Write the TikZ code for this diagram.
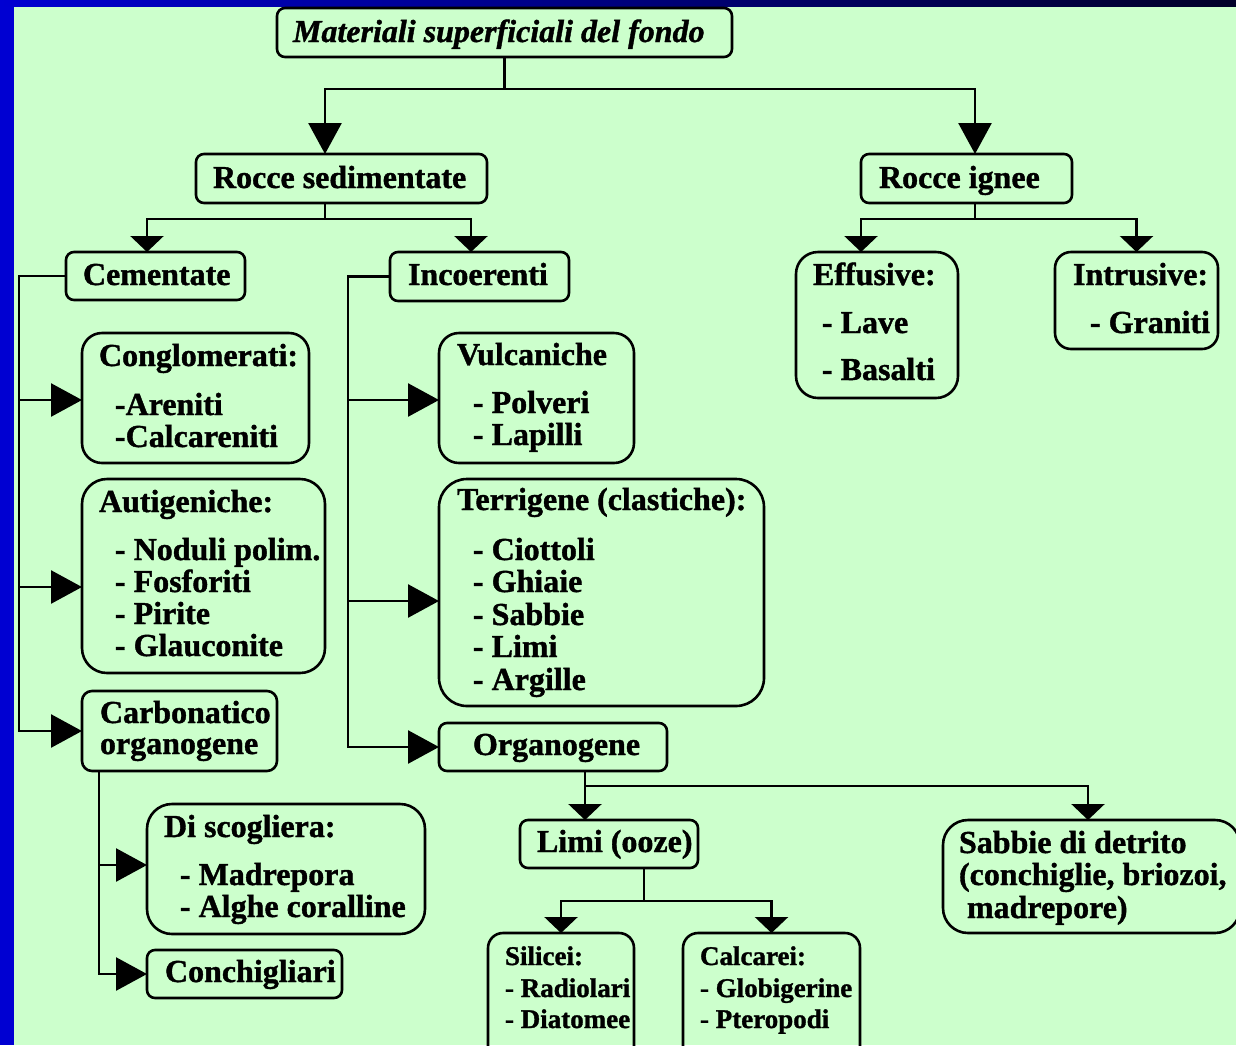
\documentclass[tikz,border=0pt]{standalone}
\usepackage{fontspec}
\setmainfont{Liberation Serif}[BoldFeatures={FakeBold=1.2},BoldItalicFeatures={FakeBold=1.2}]
\usetikzlibrary{arrows.meta}
\definecolor{bggreen}{RGB}{204,255,204}
\definecolor{slideblue}{RGB}{0,0,210}
\definecolor{darknavy}{RGB}{0,0,40}
\tikzset{
  box/.style={draw, line width=2.6pt, rounded corners=8pt, inner sep=0pt, outer sep=0pt, anchor=north west},
  txt/.style={inner sep=0pt, outer sep=0pt, anchor=base west, font=\fontsize{32}{38}\selectfont\bfseries},
  smalltxt/.style={txt, font=\fontsize{27}{32}\selectfont\bfseries},
  conn/.style={line width=2.6pt, line cap=rect},
  bigtip/.style={conn, -{Triangle[length=31pt,width=33pt]}},
  flattip/.style={conn, -{Triangle[length=16pt,width=33pt]}},
}
\begin{document}
\begin{tikzpicture}[x=1pt,y=-1pt]
\useasboundingbox (0,0) rectangle (1236,1045);
\clip (0,0) rectangle (1236,1045);
% background
\fill[bggreen] (0,0) rectangle (1236,1045);
\fill[slideblue] (0,0) rectangle (14,1045);
\shade[left color=slideblue, right color=darknavy] (0,0) rectangle (1236,6);

% boxes
\node[box, minimum width=455, minimum height=49] (title) at (277,8) {};
\node[box, minimum width=291, minimum height=49] (rsed) at (196,154) {};
\node[box, minimum width=211, minimum height=49] (rign) at (861,154) {};
\node[box, minimum width=179, minimum height=48] (cem) at (66,252) {};
\node[box, minimum width=179, minimum height=49] (inc) at (390,252) {};
\node[box, rounded corners=22pt, minimum width=162, minimum height=146] (eff) at (796,252) {};
\node[box, rounded corners=16pt, minimum width=163, minimum height=97] (intr) at (1055,252) {};
\node[box, rounded corners=20pt, minimum width=227, minimum height=130] (cong) at (82,333) {};
\node[box, rounded corners=25pt, minimum width=243, minimum height=194] (aut) at (82,479) {};
\node[box, rounded corners=10pt, minimum width=195, minimum height=80] (carb) at (82,691) {};
\node[box, rounded corners=20pt, minimum width=195, minimum height=130] (vulc) at (439,333) {};
\node[box, rounded corners=28pt, minimum width=325, minimum height=227] (terr) at (439,479) {};
\node[box, minimum width=228, minimum height=48] (org) at (439,723) {};
\node[box, rounded corners=25pt, minimum width=278, minimum height=130] (scog) at (147,804) {};
\node[box, minimum width=195, minimum height=48] (conch) at (147,950) {};
\node[box, minimum width=178, minimum height=48] (limi) at (520,820) {};
\node[box, rounded corners=25pt, minimum width=297, minimum height=113] (sab) at (943,820) {};
\node[box, rounded corners=15pt, minimum width=146, minimum height=130] (sil) at (488,933) {};
\node[box, rounded corners=15pt, minimum width=177, minimum height=130] (calc) at (683,933) {};

% junction coordinates
\coordinate (j1) at (504.5,89);
\coordinate (j2) at (325,219);
\coordinate (j3) at (975,219);
\coordinate (j4) at (585,786);
\coordinate (j5) at (644,901);
\coordinate (cl) at (19,0);
\coordinate (il) at (348,0);
\coordinate (cb) at (99,0);

% connectors
\draw[conn] (title.south) -- (j1);
\draw[bigtip] (j1) -| ([xshift=-16.5pt]rsed.north);
\draw[bigtip] (j1) -| ([xshift=8.5pt]rign.north);

\draw[conn] ([xshift=-16.5pt]rsed.south) -- (j2);
\draw[flattip] (j2) -| ([xshift=-8.5pt]cem.north);
\draw[flattip] (j2) -| ([xshift=-8.5pt]inc.north);

\draw[conn] ([xshift=8.5pt]rign.south) -- (j3);
\draw[flattip] (j3) -| ([xshift=-16pt]eff.north);
\draw[flattip] (j3) -| (intr.north);

\draw[conn] (cem.west) -| (cl |- carb.west);
\draw[bigtip] (19,400) -- (cong.west |- 0,400);
\draw[bigtip] (19,587) -- (aut.west |- 0,587);
\draw[bigtip] (cl |- carb.west) -- (carb.west);

\draw[conn] (inc.west) -| (il |- org.west);
\draw[bigtip] (348,400) -- (vulc.west |- 0,400);
\draw[bigtip] (348,601) -- (terr.west |- 0,601);
\draw[bigtip] (il |- org.west) -- (org.west);

\draw[conn] (cb |- carb.south) -- (cb |- conch.west);
\draw[bigtip] (99,865) -- (scog.west |- 0,865);
\draw[bigtip] (cb |- conch.west) -- (conch.west);

\draw[conn] (j4 |- org.south) -- (j4);
\draw[flattip] (j4) -- (j4 |- limi.north);
\draw[flattip] (j4) -| ([xshift=-3.5pt]sab.north);

\draw[conn] (j5 |- limi.south) -- (j5);
\draw[flattip] (j5) -| (sil.north);
\draw[flattip] (j5) -| (calc.north);

% texts
\node[txt, font=\fontsize{32}{38}\selectfont\bfseries\itshape] (ttitle) at (293,42) {Materiali superficiali del fondo};
\node[txt] (trsed) at (213,188) {Rocce sedimentate};
\node[txt] (trign) at (879,188) {Rocce ignee};
\node[txt] (tcem) at (83,285) {Cementate};
\node[txt] (tinc) at (408,285) {Incoerenti};

\node[txt] (teffa) at (813,285) {Effusive:};
\node[txt] (teffb) at (822,333) {- Lave};
\node[txt] (teffc) at (822,380) {- Basalti};
\node[txt] (tinta) at (1073,285) {Intrusive:};
\node[txt] (tintb) at (1090,333) {- Graniti};

\node[txt] (tconga) at (99,366) {Conglomerati:};
\node[txt] (tcongb) at (115,415) {-Areniti};
\node[txt] (tcongc) at (115,447) {-Calcareniti};

\node[txt] (tauta) at (99,512) {Autigeniche:};
\node[txt] (tautb) at (115,560) {- Noduli polim.};
\node[txt] (tautc) at (115,592) {- Fosforiti};
\node[txt] (tautd) at (115,624) {- Pirite};
\node[txt] (taute) at (115,656) {- Glauconite};

\node[txt] (tcarba) at (100,723) {Carbonatico};
\node[txt] (tcarbb) at (100,754) {organogene};

\node[txt] (tvulca) at (457,365) {Vulcaniche};
\node[txt] (tvulcb) at (473,413) {- Polveri};
\node[txt] (tvulcc) at (473,445) {- Lapilli};

\node[txt] (tterra) at (457,510) {Terrigene (clastiche):};
\node[txt] (tterrb) at (473,560) {- Ciottoli};
\node[txt] (tterrc) at (473,592) {- Ghiaie};
\node[txt] (tterrd) at (473,625) {- Sabbie};
\node[txt] (tterre) at (473,657) {- Limi};
\node[txt] (tterrf) at (473,690) {- Argille};

\node[txt] (torg) at (473,755) {Organogene};
\node[txt] (tlimi) at (537,852) {Limi (ooze)};

\node[txt] (tsaba) at (959,853) {Sabbie di detrito};
\node[txt] (tsabb) at (959,885) {(conchiglie, briozoi,};
\node[txt] (tsabc) at (967,918) {madrepore)};

\node[txt] (tscoga) at (164,837) {Di scogliera:};
\node[txt] (tscogb) at (180,885) {- Madrepora};
\node[txt] (tscogc) at (180,917) {- Alghe coralline};

\node[txt] (tconch) at (165,982) {Conchigliari};

\node[smalltxt] (tsila) at (505,965) {Silicei:};
\node[smalltxt] (tsilb) at (505,997) {- Radiolari};
\node[smalltxt] (tsilc) at (505,1028) {- Diatomee};

\node[smalltxt] (tcalca) at (700,965) {Calcarei:};
\node[smalltxt] (tcalcb) at (700,997) {- Globigerine};
\node[smalltxt] (tcalcc) at (700,1028) {- Pteropodi};
\end{tikzpicture}
\end{document}
